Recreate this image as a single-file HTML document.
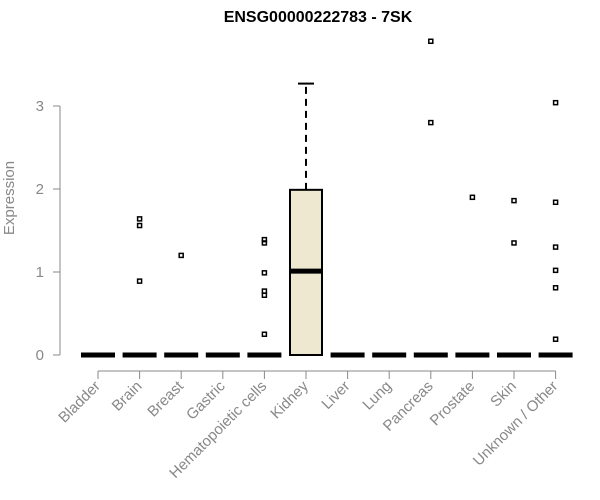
<!DOCTYPE html>
<html><head><style>body{margin:0;background:#fff}svg{display:block}</style></head>
<body>
<svg id="c" width="600" height="500" xmlns="http://www.w3.org/2000/svg" font-family="Liberation Sans, Arial, sans-serif">
<text x="318" y="22" text-anchor="middle" font-weight="bold" font-size="16">ENSG00000222783 - 7SK</text>
<text transform="translate(14,198) rotate(-90)" text-anchor="middle" font-size="15" fill="#888">Expression</text>
<g id="g"></g>
</svg>
<script>
const categories=["Bladder","Brain","Breast","Gastric","Hematopoietic cells","Kidney","Liver","Lung","Pancreas","Prostate","Skin","Unknown / Other"];
const q1=[0,0,0,0,0,0,0,0,0,0,0,0];
const medians=[0,0,0,0,0,1.01,0,0,0,0,0,0];
const q3=[0,0,0,0,0,1.99,0,0,0,0,0,0];
const whiskerHigh=[0,0,0,0,0,3.27,0,0,0,0,0,0];
const outliers=[[],[1.64,1.56,0.89],[1.2],[],[1.39,1.35,0.99,0.77,0.72,0.25],[],[],[],[3.78,2.8],[1.9],[1.86,1.35],[3.04,1.84,1.3,1.02,0.81,0.19]];
const yTicks=[0,1,2,3];
const NS="http://www.w3.org/2000/svg",g=document.getElementById('g');
const y=v=>355-83*v, x=i=>98+41.6*i;
function mk(t,a){const e=document.createElementNS(NS,t);for(const k in a)e.setAttribute(k,a[k]);g.appendChild(e);return e;}
let e=mk('line',{x1:60,x2:60,y1:y(3),y2:y(0),stroke:'#888'});


yTicks.forEach(t=>{let l=mk('line',{x1:53,x2:60,y1:y(t),y2:y(t),stroke:'#888'});


let tx=mk('text',{x:44,y:y(t)+5,'text-anchor':'end','font-size':15,fill:'#888'});tx.textContent=t;

});
e=mk('line',{x1:x(0),x2:x(categories.length-1),y1:371,y2:371,stroke:'#888'});


categories.forEach((c,i)=>{const cx=x(i);
let l=mk('line',{x1:cx,x2:cx,y1:371,y2:379,stroke:'#888'});


let t=mk('text',{transform:`translate(${cx+3},${387}) rotate(-45)`,'text-anchor':'end','font-size':15,fill:'#888'});t.textContent=c;


if(q3[i]>q1[i]){
 let w=mk('line',{x1:cx,x2:cx,y1:y(q3[i]),y2:y(whiskerHigh[i]),stroke:'#000','stroke-width':2,'stroke-dasharray':'7,5'});
 
 
 let cap=mk('line',{x1:cx-8,x2:cx+8,y1:y(whiskerHigh[i]),y2:y(whiskerHigh[i]),stroke:'#000','stroke-width':2});
 
 
 let b=mk('rect',{x:cx-16,y:y(q3[i]),width:32,height:y(q1[i])-y(q3[i]),fill:'#ede8cf',stroke:'#000','stroke-width':2});
 
 
}
let m=mk('line',{x1:cx-17,x2:cx+17,y1:y(medians[i]),y2:y(medians[i]),stroke:'#000','stroke-width':5});


outliers[i].forEach(v=>{let p=mk('rect',{x:cx-2,y:y(v)-2,width:4,height:4,fill:'none',stroke:'#000','stroke-width':1.5});

});
});
</script>
</body></html>
